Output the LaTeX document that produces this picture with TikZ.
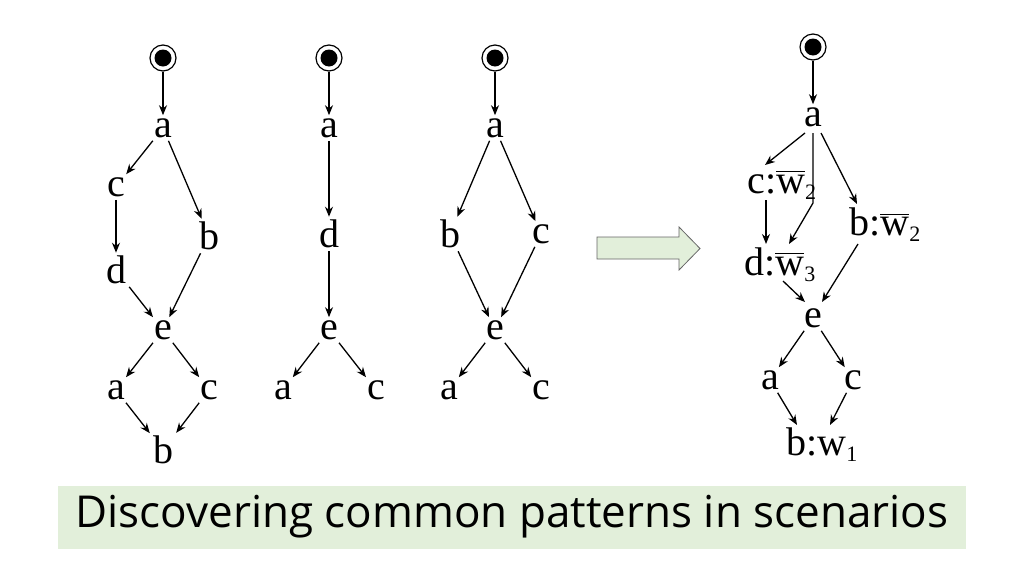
\documentclass[tikz,border=0pt]{standalone}
\usepackage{amsmath}
\usepackage{fontspec}
\setmainfont{Liberation Serif}
\newfontfamily\capfont{Open Sans}
\usetikzlibrary{arrows.meta}
\definecolor{lgreen}{HTML}{E2EFDA}
\newcommand{\wbar}[1]{$\overline{\text{w}}_{\text{\fontsize{22}{22}\selectfont #1}}$}
\begin{document}
\begin{tikzpicture}[x=1pt,y=-1pt,
  lbl/.style={font=\fontsize{40}{40}\selectfont, inner sep=3pt},
  st/.style={circle,draw,line width=1.2pt,minimum size=26pt,inner sep=0pt,
    path picture={\fill (path picture bounding box.center) circle (8.5pt);}},
  ed/.style={-{Stealth[length=10pt,width=8pt]},line width=1.3pt}]
\useasboundingbox (0,0) rectangle (1024,576);
\fill[white] (0,0) rectangle (1024,576);
% graph 1
\node[st] (s1) at (163,58) {};
\node[lbl] (a1) at (163,128) {a};
\node[lbl] (c1) at (116,187) {c};
\node[lbl] (b1) at (209,236) {b};
\node[lbl] (d1) at (116,270) {d};
\node[lbl] (e1) at (163,330) {e};
\node[lbl] (x1) at (116,390) {a};
\node[lbl] (y1) at (209,390) {c};
\node[lbl] (z1) at (163,450) {b};
\draw[ed] (s1)--(a1); \draw[ed] (a1)--(c1); \draw[ed] (a1)--(b1);
\draw[ed] (c1)--(d1); \draw[ed] (d1)--(e1); \draw[ed] (b1)--(e1);
\draw[ed] (e1)--(x1); \draw[ed] (e1)--(y1); \draw[ed] (x1)--(z1); \draw[ed] (y1)--(z1);
% graph 2
\node[st] (s2) at (329,58) {};
\node[lbl] (a2) at (329,128) {a};
\node[lbl] (d2) at (329,234) {d};
\node[lbl] (e2) at (329,330) {e};
\node[lbl] (x2) at (283,390) {a};
\node[lbl] (y2) at (376,390) {c};
\draw[ed] (s2)--(a2); \draw[ed] (a2)--(d2); \draw[ed] (d2)--(e2);
\draw[ed] (e2)--(x2); \draw[ed] (e2)--(y2);
% graph 3
\node[st] (s3) at (495,58) {};
\node[lbl] (a3) at (495,128) {a};
\node[lbl] (b3) at (450,234) {b};
\node[lbl] (c3) at (541,234) {c};
\node[lbl] (e3) at (495,330) {e};
\node[lbl] (x3) at (449,390) {a};
\node[lbl] (y3) at (541,390) {c};
\draw[ed] (s3)--(a3); \draw[ed] (a3)--(b3); \draw[ed] (a3)--(c3);
\draw[ed] (b3)--(e3); \draw[ed] (c3)--(e3);
\draw[ed] (e3)--(x3); \draw[ed] (e3)--(y3);
% big arrow
\draw[draw=gray!80!black,fill=lgreen,line width=0.8pt,line join=miter]
  (597,237) -- (679,237) -- (679,227) -- (700,248.5) -- (679,270) -- (679,259) -- (597,259) -- cycle;
% graph 4
\node[st] (s4) at (813,47) {};
\node[lbl] (a4) at (813,117) {a};
\node[lbl] (c4) at (782,185) {c:\wbar{2}};
\node[lbl] (d4) at (780,265) {d:\wbar{3}};
\node[lbl] (b4) at (885,225) {b:\wbar{2}};
\node[lbl] (e4) at (813,318) {e};
\node[lbl] (x4) at (770,380) {a};
\node[lbl] (y4) at (853,380) {c};
\node[lbl] (z4) at (822,445) {b:w$_{\text{\fontsize{22}{22}\selectfont 1}}$};
\coordinate (m4) at (813,203);
\draw[ed] (s4)--(a4);
\draw[ed] (805,133)--(765,165);
\draw[ed] (821,133)--(857,204);
\draw[ed] (766,200)--(766,244);
\draw[ed] (813,133)--(m4)--(789,244);
\draw[ed] (783,281)--(805,302);
\draw[ed] (858,244)--(822,302);
\draw[ed] (e4)--(x4); \draw[ed] (e4)--(y4);
\draw[ed] (x4)--(797,425); \draw[ed] (y4)--(830,425);
% caption
\node[fill=lgreen,minimum width=908pt,minimum height=63pt,
  font=\capfont\fontsize{44}{44}\selectfont] (cap) at (512,517) {Discovering common patterns in scenarios};
\end{tikzpicture}
\end{document}
